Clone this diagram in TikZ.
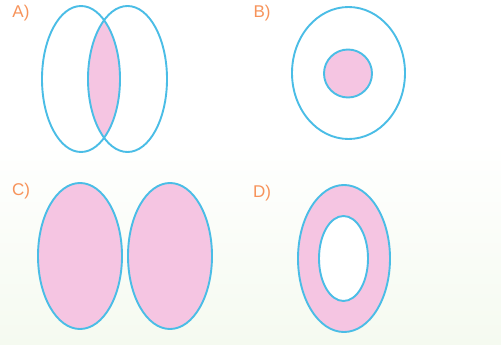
\documentclass[tikz,border=0pt]{standalone}
\usepackage{fontspec}
\setmainfont{Liberation Sans}
\definecolor{ringblue}{HTML}{4ABDE6}
\definecolor{setpink}{HTML}{F5C5E2}
\definecolor{labelorange}{HTML}{F7935A}
\definecolor{bggreen}{HTML}{F5FAF0}
\begin{document}
\begin{tikzpicture}[x=1pt,y=-1pt,
  setline/.style={draw=ringblue,line width=1.9pt},
  lab/.style={text=labelorange,font=\fontsize{17}{17}\selectfont,inner sep=0pt}]
\useasboundingbox (0,0) rectangle (501,345);
\fill[white] (0,0) rectangle (501,345);
\shade[top color=white,bottom color=bggreen] (0,140) rectangle (501,345);
% A
\begin{scope}
  \clip (81,79) ellipse [x radius=39, y radius=73];
  \fill[setpink] (127.5,79) ellipse [x radius=39.5, y radius=73];
\end{scope}
\draw[setline] (81,79) ellipse [x radius=39, y radius=73];
\draw[setline] (127.5,79) ellipse [x radius=39.5, y radius=73];
\node[lab] (la) at (21,13) {A)};
% B
\draw[setline] (348.5,73) ellipse [x radius=56.5, y radius=66];
\draw[setline,fill=setpink] (348,73.5) circle [radius=24];
\node[lab] (lb) at (262,13) {B)};
% C
\draw[setline,fill=setpink] (80,256) ellipse [x radius=42, y radius=73];
\draw[setline,fill=setpink] (170,256) ellipse [x radius=42, y radius=73];
\node[lab] (lc) at (21,191) {C)};
% D
\draw[setline,fill=setpink] (344,258.5) ellipse [x radius=46, y radius=73.5];
\draw[setline,fill=white] (343.5,258.5) ellipse [x radius=24.5, y radius=42.5];
\node[lab] (ld) at (262,193) {D)};
\end{tikzpicture}
\end{document}
